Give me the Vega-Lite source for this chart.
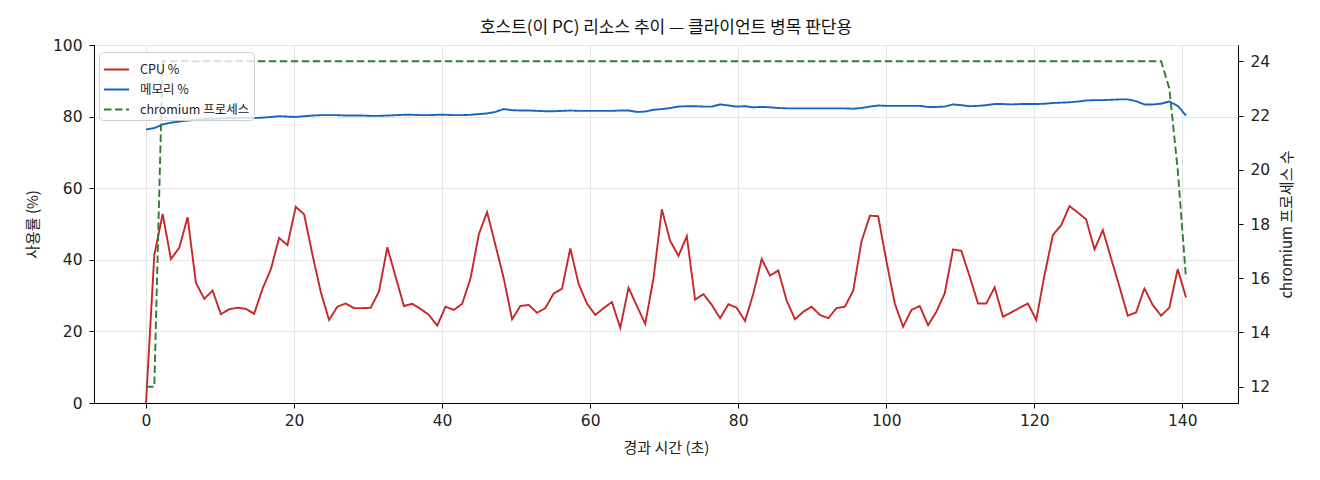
{
  "$schema": "https://vega.github.io/schema/vega-lite/v6.json",
  "width": 1144,
  "height": 358,
  "autosize": {"type": "none"},
  "padding": {"left": 94, "top": 45, "right": 82, "bottom": 77},
  "title": {
    "text": "호스트(이 PC) 리소스 추이 — 클라이언트 병목 판단용",
    "fontSize": 17,
    "fontWeight": "normal",
    "font": "Noto Sans CJK KR",
    "color": "#111",
    "anchor": "middle",
    "offset": 1
  },
  "data": {
    "values": [
      {"t": 0.0, "cpu": 0.0, "mem": 76.4, "chromium": 12},
      {"t": 1.12, "cpu": 41.3, "mem": 76.8, "chromium": 12},
      {"t": 2.25, "cpu": 52.8, "mem": 77.8, "chromium": 24},
      {"t": 3.37, "cpu": 40.2, "mem": 78.3, "chromium": 24},
      {"t": 4.5, "cpu": 43.4, "mem": 78.6, "chromium": 24},
      {"t": 5.62, "cpu": 51.9, "mem": 78.9, "chromium": 24},
      {"t": 6.74, "cpu": 33.6, "mem": 79.1, "chromium": 24},
      {"t": 7.87, "cpu": 29.1, "mem": 79.3, "chromium": 24},
      {"t": 8.99, "cpu": 31.4, "mem": 79.4, "chromium": 24},
      {"t": 10.12, "cpu": 24.8, "mem": 79.5, "chromium": 24},
      {"t": 11.24, "cpu": 26.2, "mem": 79.6, "chromium": 24},
      {"t": 12.36, "cpu": 26.6, "mem": 79.6, "chromium": 24},
      {"t": 13.49, "cpu": 26.3, "mem": 79.7, "chromium": 24},
      {"t": 14.61, "cpu": 24.9, "mem": 79.6, "chromium": 24},
      {"t": 15.74, "cpu": 31.9, "mem": 79.7, "chromium": 24},
      {"t": 16.86, "cpu": 37.3, "mem": 79.9, "chromium": 24},
      {"t": 17.98, "cpu": 46.1, "mem": 80.1, "chromium": 24},
      {"t": 19.11, "cpu": 44.1, "mem": 80.0, "chromium": 24},
      {"t": 20.23, "cpu": 54.8, "mem": 79.9, "chromium": 24},
      {"t": 21.36, "cpu": 52.7, "mem": 80.1, "chromium": 24},
      {"t": 22.48, "cpu": 41.5, "mem": 80.3, "chromium": 24},
      {"t": 23.6, "cpu": 31.1, "mem": 80.4, "chromium": 24},
      {"t": 24.73, "cpu": 23.2, "mem": 80.4, "chromium": 24},
      {"t": 25.85, "cpu": 26.9, "mem": 80.4, "chromium": 24},
      {"t": 26.98, "cpu": 27.8, "mem": 80.3, "chromium": 24},
      {"t": 28.1, "cpu": 26.5, "mem": 80.3, "chromium": 24},
      {"t": 29.22, "cpu": 26.5, "mem": 80.3, "chromium": 24},
      {"t": 30.35, "cpu": 26.6, "mem": 80.2, "chromium": 24},
      {"t": 31.47, "cpu": 31.1, "mem": 80.2, "chromium": 24},
      {"t": 32.6, "cpu": 43.5, "mem": 80.3, "chromium": 24},
      {"t": 33.72, "cpu": 35.3, "mem": 80.4, "chromium": 24},
      {"t": 34.84, "cpu": 27.1, "mem": 80.5, "chromium": 24},
      {"t": 35.97, "cpu": 27.7, "mem": 80.5, "chromium": 24},
      {"t": 37.09, "cpu": 26.3, "mem": 80.4, "chromium": 24},
      {"t": 38.22, "cpu": 24.6, "mem": 80.4, "chromium": 24},
      {"t": 39.34, "cpu": 21.6, "mem": 80.5, "chromium": 24},
      {"t": 40.46, "cpu": 26.9, "mem": 80.5, "chromium": 24},
      {"t": 41.59, "cpu": 26.0, "mem": 80.4, "chromium": 24},
      {"t": 42.71, "cpu": 27.7, "mem": 80.4, "chromium": 24},
      {"t": 43.84, "cpu": 34.8, "mem": 80.5, "chromium": 24},
      {"t": 44.96, "cpu": 47.1, "mem": 80.7, "chromium": 24},
      {"t": 46.08, "cpu": 53.3, "mem": 80.9, "chromium": 24},
      {"t": 47.21, "cpu": 44.1, "mem": 81.3, "chromium": 24},
      {"t": 48.33, "cpu": 34.8, "mem": 82.1, "chromium": 24},
      {"t": 49.46, "cpu": 23.4, "mem": 81.8, "chromium": 24},
      {"t": 50.58, "cpu": 27.1, "mem": 81.7, "chromium": 24},
      {"t": 51.7, "cpu": 27.4, "mem": 81.7, "chromium": 24},
      {"t": 52.83, "cpu": 25.2, "mem": 81.6, "chromium": 24},
      {"t": 53.95, "cpu": 26.5, "mem": 81.5, "chromium": 24},
      {"t": 55.08, "cpu": 30.6, "mem": 81.5, "chromium": 24},
      {"t": 56.2, "cpu": 31.9, "mem": 81.6, "chromium": 24},
      {"t": 57.32, "cpu": 43.2, "mem": 81.7, "chromium": 24},
      {"t": 58.45, "cpu": 33.2, "mem": 81.6, "chromium": 24},
      {"t": 59.57, "cpu": 27.8, "mem": 81.6, "chromium": 24},
      {"t": 60.7, "cpu": 24.6, "mem": 81.6, "chromium": 24},
      {"t": 61.82, "cpu": 26.5, "mem": 81.6, "chromium": 24},
      {"t": 62.94, "cpu": 28.2, "mem": 81.6, "chromium": 24},
      {"t": 64.07, "cpu": 21.0, "mem": 81.7, "chromium": 24},
      {"t": 65.19, "cpu": 32.2, "mem": 81.7, "chromium": 24},
      {"t": 66.32, "cpu": 27.1, "mem": 81.3, "chromium": 24},
      {"t": 67.44, "cpu": 22.1, "mem": 81.4, "chromium": 24},
      {"t": 68.56, "cpu": 34.8, "mem": 81.9, "chromium": 24},
      {"t": 69.69, "cpu": 54.1, "mem": 82.1, "chromium": 24},
      {"t": 70.81, "cpu": 45.3, "mem": 82.4, "chromium": 24},
      {"t": 71.94, "cpu": 41.1, "mem": 82.8, "chromium": 24},
      {"t": 73.06, "cpu": 46.6, "mem": 82.9, "chromium": 24},
      {"t": 74.18, "cpu": 28.9, "mem": 82.9, "chromium": 24},
      {"t": 75.31, "cpu": 30.4, "mem": 82.8, "chromium": 24},
      {"t": 76.43, "cpu": 27.4, "mem": 82.8, "chromium": 24},
      {"t": 77.56, "cpu": 23.7, "mem": 83.4, "chromium": 24},
      {"t": 78.68, "cpu": 27.6, "mem": 83.1, "chromium": 24},
      {"t": 79.8, "cpu": 26.6, "mem": 82.8, "chromium": 24},
      {"t": 80.93, "cpu": 22.9, "mem": 82.9, "chromium": 24},
      {"t": 82.05, "cpu": 30.6, "mem": 82.6, "chromium": 24},
      {"t": 83.18, "cpu": 40.2, "mem": 82.7, "chromium": 24},
      {"t": 84.3, "cpu": 35.6, "mem": 82.6, "chromium": 24},
      {"t": 85.42, "cpu": 37.0, "mem": 82.4, "chromium": 24},
      {"t": 86.55, "cpu": 28.6, "mem": 82.3, "chromium": 24},
      {"t": 87.67, "cpu": 23.4, "mem": 82.3, "chromium": 24},
      {"t": 88.8, "cpu": 25.5, "mem": 82.3, "chromium": 24},
      {"t": 89.92, "cpu": 26.9, "mem": 82.3, "chromium": 24},
      {"t": 91.04, "cpu": 24.6, "mem": 82.3, "chromium": 24},
      {"t": 92.17, "cpu": 23.7, "mem": 82.3, "chromium": 24},
      {"t": 93.29, "cpu": 26.5, "mem": 82.3, "chromium": 24},
      {"t": 94.42, "cpu": 26.9, "mem": 82.3, "chromium": 24},
      {"t": 95.54, "cpu": 31.4, "mem": 82.2, "chromium": 24},
      {"t": 96.66, "cpu": 45.1, "mem": 82.4, "chromium": 24},
      {"t": 97.79, "cpu": 52.3, "mem": 82.8, "chromium": 24},
      {"t": 98.91, "cpu": 52.2, "mem": 83.1, "chromium": 24},
      {"t": 100.04, "cpu": 39.5, "mem": 83.0, "chromium": 24},
      {"t": 101.16, "cpu": 27.8, "mem": 83.0, "chromium": 24},
      {"t": 102.28, "cpu": 21.3, "mem": 83.0, "chromium": 24},
      {"t": 103.41, "cpu": 26.0, "mem": 83.0, "chromium": 24},
      {"t": 104.53, "cpu": 27.1, "mem": 83.0, "chromium": 24},
      {"t": 105.66, "cpu": 21.7, "mem": 82.7, "chromium": 24},
      {"t": 106.78, "cpu": 25.5, "mem": 82.7, "chromium": 24},
      {"t": 107.9, "cpu": 30.6, "mem": 82.8, "chromium": 24},
      {"t": 109.03, "cpu": 42.9, "mem": 83.4, "chromium": 24},
      {"t": 110.15, "cpu": 42.5, "mem": 83.2, "chromium": 24},
      {"t": 111.28, "cpu": 35.3, "mem": 82.9, "chromium": 24},
      {"t": 112.4, "cpu": 27.8, "mem": 83.0, "chromium": 24},
      {"t": 113.52, "cpu": 27.8, "mem": 83.2, "chromium": 24},
      {"t": 114.65, "cpu": 32.3, "mem": 83.5, "chromium": 24},
      {"t": 115.77, "cpu": 24.1, "mem": 83.5, "chromium": 24},
      {"t": 116.9, "cpu": 25.3, "mem": 83.4, "chromium": 24},
      {"t": 118.02, "cpu": 26.6, "mem": 83.5, "chromium": 24},
      {"t": 119.14, "cpu": 27.8, "mem": 83.5, "chromium": 24},
      {"t": 120.27, "cpu": 23.2, "mem": 83.5, "chromium": 24},
      {"t": 121.39, "cpu": 35.8, "mem": 83.6, "chromium": 24},
      {"t": 122.52, "cpu": 46.9, "mem": 83.8, "chromium": 24},
      {"t": 123.64, "cpu": 49.7, "mem": 83.9, "chromium": 24},
      {"t": 124.76, "cpu": 55.0, "mem": 84.0, "chromium": 24},
      {"t": 125.89, "cpu": 53.2, "mem": 84.2, "chromium": 24},
      {"t": 127.01, "cpu": 51.3, "mem": 84.5, "chromium": 24},
      {"t": 128.14, "cpu": 42.9, "mem": 84.6, "chromium": 24},
      {"t": 129.26, "cpu": 48.3, "mem": 84.6, "chromium": 24},
      {"t": 130.38, "cpu": 40.4, "mem": 84.7, "chromium": 24},
      {"t": 131.51, "cpu": 32.5, "mem": 84.8, "chromium": 24},
      {"t": 132.63, "cpu": 24.4, "mem": 84.8, "chromium": 24},
      {"t": 133.76, "cpu": 25.3, "mem": 84.3, "chromium": 24},
      {"t": 134.88, "cpu": 32.0, "mem": 83.4, "chromium": 24},
      {"t": 136.0, "cpu": 27.4, "mem": 83.4, "chromium": 24},
      {"t": 137.13, "cpu": 24.4, "mem": 83.6, "chromium": 24},
      {"t": 138.25, "cpu": 26.6, "mem": 84.2, "chromium": 23},
      {"t": 139.38, "cpu": 37.4, "mem": 83.0, "chromium": 20},
      {"t": 140.5, "cpu": 29.5, "mem": 80.3, "chromium": 16}
    ]
  },
  "transform": [
    {"fold": ["cpu", "mem", "chromium"], "as": ["key", "value"]},
    {"lookup": "key", "from": {"data": {"values": [
      {"key": "cpu", "series": "CPU %"},
      {"key": "mem", "series": "메모리 %"},
      {"key": "chromium", "series": "chromium 프로세스"}
    ]}, "key": "key", "fields": ["series"]}}
  ],
  "encoding": {
    "x": {
      "field": "t",
      "type": "quantitative",
      "title": "경과 시간 (초)",
      "scale": {"domain": [-7.025, 147.525], "nice": false, "zero": false},
      "axis": {"values": [0, 20, 40, 60, 80, 100, 120, 140], "grid": true}
    },
    "color": {
      "field": "series",
      "type": "nominal",
      "title": null,
      "scale": {
        "domain": ["CPU %", "메모리 %", "chromium 프로세스"],
        "range": ["#c62828", "#1565c0", "#2e7d32"]
      },
      "legend": {
        "orient": "none",
        "legendX": 5,
        "legendY": 7,
        "symbolType": "stroke",
        "symbolStrokeWidth": 2,
        "symbolSize": 625,
        "labelFontSize": 12.5,
        "labelOffset": 10,
        "rowPadding": -2,
        "padding": 4,
        "fillColor": "rgba(255,255,255,0.8)",
        "strokeColor": "#d0d0d0",
        "cornerRadius": 4
      }
    },
    "strokeDash": {
      "field": "series",
      "type": "nominal",
      "title": null,
      "scale": {
        "domain": ["CPU %", "메모리 %", "chromium 프로세스"],
        "range": [[1, 0], [1, 0], [7.5, 3.5]]
      },
      "legend": {
        "orient": "none",
        "legendX": 5,
        "legendY": 7,
        "symbolType": "stroke",
        "symbolStrokeWidth": 2,
        "symbolSize": 625,
        "labelFontSize": 12.5,
        "labelOffset": 10,
        "rowPadding": -2,
        "padding": 4,
        "fillColor": "rgba(255,255,255,0.8)",
        "strokeColor": "#d0d0d0",
        "cornerRadius": 4
      }
    }
  },
  "layer": [
    {
      "transform": [{"filter": "datum.key !== 'chromium'"}],
      "mark": {"type": "line", "strokeWidth": 1.9, "clip": true},
      "encoding": {
        "y": {
          "field": "value",
          "type": "quantitative",
          "title": "사용률 (%)",
          "scale": {"domain": [0, 100], "nice": false},
          "axis": {"values": [0, 20, 40, 60, 80, 100], "grid": true, "orient": "left"}
        }
      }
    },
    {
      "transform": [{"filter": "datum.key === 'chromium'"}],
      "mark": {"type": "line", "strokeWidth": 1.9, "clip": true},
      "encoding": {
        "y": {
          "field": "value",
          "type": "quantitative",
          "title": "chromium 프로세스 수",
          "scale": {"domain": [11.4, 24.6], "nice": false, "zero": false},
          "axis": {"values": [12, 14, 16, 18, 20, 22, 24], "grid": false, "orient": "right", "titleAngle": 270, "titleBaseline": "top"}
        }
      }
    }
  ],
  "resolve": {"scale": {"y": "independent"}},
  "config": {
    "font": "Noto Sans CJK KR",
    "view": {"stroke": "#000", "strokeWidth": 1},
    "axis": {
      "domainColor": "#000",
      "domainWidth": 1,
      "tickColor": "#000",
      "tickSize": 5,
      "labelFont": "DejaVu Sans",
      "labelFontSize": 15.5,
      "labelColor": "#222",
      "titleFont": "Noto Sans CJK KR",
      "titleFontSize": 15,
      "titleFontWeight": "normal",
      "titleColor": "#222",
      "gridColor": "#e6e6e6",
      "gridWidth": 1
    },
    "axisX": {"labelPadding": 5, "titlePadding": 12},
    "axisLeft": {"labelPadding": 7, "titlePadding": 12},
    "axisRight": {"labelPadding": 7, "titlePadding": 10},
    "legend": {"labelFont": "Noto Sans CJK KR", "labelColor": "#222"}
  }
}
